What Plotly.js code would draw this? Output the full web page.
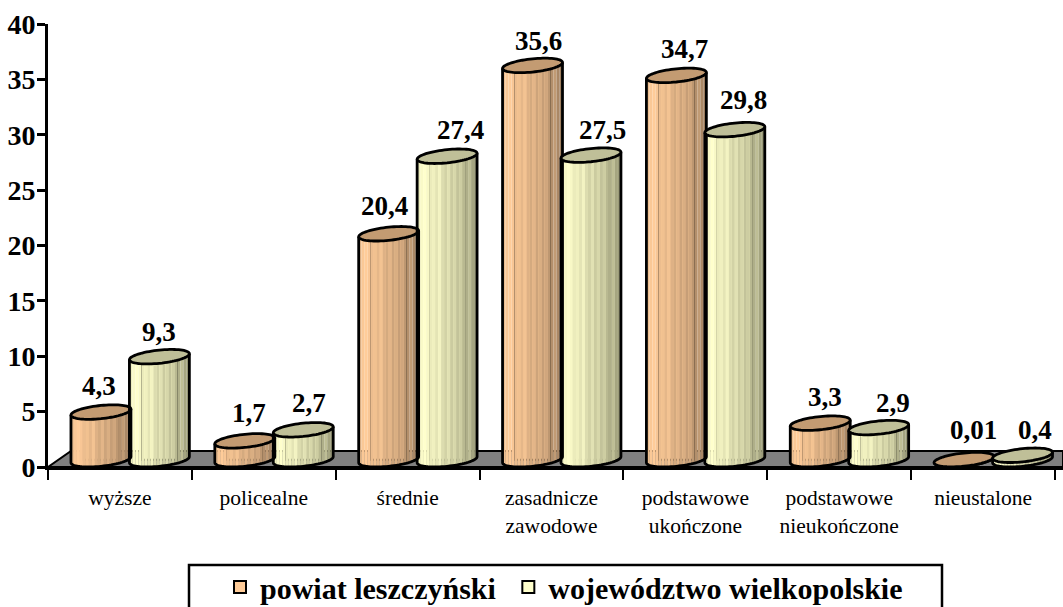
<!DOCTYPE html>
<html><head><meta charset="utf-8">
<script src="https://cdn.plot.ly/plotly-3.0.1.min.js"></script>
<style>html,body{margin:0;padding:0;background:#fff;overflow:hidden}</style>
</head><body><div id="chart" style="width:1063px;height:607px"></div>
<script>
const categories = ["wyższe","policealne","średnie","zasadnicze<br>zawodowe","podstawowe<br>ukończone","podstawowe<br>nieukończone","nieustalone"];
const powiat = [4.3,1.7,20.4,35.6,34.7,3.3,0.01];
const wojewodztwo = [9.3,2.7,27.4,27.5,29.8,2.9,0.4];
const seriesNames = ["powiat leszczyński\u00a0","województwo wielkopolskie"];
const yTicks = [0,5,10,15,20,25,30,35,40];

// label nudges (pixels, from the bar centre: right, up)
const powiatLabelDx = [-2,4,-4,6,8,5,9];
const powiatLabelUp = [26,28,28,24,26,26,30];
const wojLabelDx = [0,6,13,11,9,14,12];
const wojLabelUp = [25,27,26,25,30,25,25];

// geometry helpers: pixels per category / per y unit
const W = 1063, H = 607, L = 48, T = 24, B = 140;
const pxX = 144, pxY = (H-T-B)/40;
const lift = 7.3/pxY, a = 30, b = 6.6, s = 0.1;
const centers = [-19, 39.5];
const bodyColors = [[255,204,153],[255,255,204]];
const endColors = [[160,128,96],[155,155,120]];
const topColors = ["#C39B72","#BFBF98"];
const stripes = [.93,.98,1,.97,.92,.94,.89,.95,.86,.82,.88,.79,.84,.76,.8,.72,.68,.74,.64,.6];

const traces = [], shapes = [], annotations = [];
const sets = [powiat, wojewodztwo];
sets.forEach((vals,si)=>{
  traces.push({type:"bar",name:seriesNames[si],x:categories,y:vals,base:lift,
    width:36/pxX,offset:(centers[si]-18)/pxX,cliponaxis:false,hoverinfo:"x+y",
    marker:{color:`rgb(${bodyColors[si]})`,line:{color:"#000",width:2}}});
});
sets.forEach((vals,si)=>{
  const n = stripes.length;
  stripes.forEach((f,k)=>{
    const dx = -a + (k+.5)*2*a/n;
    const h = b*Math.sqrt(1-(dx/a)*(dx/a)) - s*dx;
    const c = bodyColors[si].map((v,i)=>Math.round(endColors[si][i]+(v-endColors[si][i])*((f-.6)/.4)));
    traces.push({type:"bar",x:categories,y:vals,base:lift-h/pxY,showlegend:false,hoverinfo:"skip",
      width:2*a/n/pxX,offset:(centers[si]+dx-a/n)/pxX,cliponaxis:false,
      marker:{color:`rgb(${c})`,line:{width:0}}});
  });
});

function pt(i,si,v,t){
  const x = i + (centers[si]+a*Math.cos(t))/pxX;
  const y = v + lift - (b*Math.sin(t) - s*a*Math.cos(t))/pxY;
  return x.toFixed(4)+","+y.toFixed(4);
}
// floor
const floorUp = 16/pxY;
shapes.push({type:"path",layer:"below",xref:"paper",yref:"y",
  path:`M0,0 L${23/(W-L)},${floorUp} L1,${floorUp} L1,0 Z`,fillcolor:"#808080",line:{color:"#000",width:2}});

categories.forEach((c,i)=>{
  sets.forEach((vals,si)=>{
    const v = vals[i];
    let body = "M"+pt(i,si,v,Math.PI);
    for(let j=0;j<=36;j++) body += " L"+pt(i,si,0,Math.PI-j*Math.PI/36);
    body += " L"+pt(i,si,v,0);
    shapes.push({type:"path",xref:"x",yref:"y",path:body,line:{color:"#000",width:2.8}});
    let el = "M"+pt(i,si,v,0);
    for(let j=1;j<72;j++) el += " L"+pt(i,si,v,j*Math.PI/36);
    el += " Z";
    shapes.push({type:"path",xref:"x",yref:"y",path:el,fillcolor:topColors[si],line:{color:"#000",width:2.8}});
    annotations.push({xref:"x",yref:"y",x:i,y:v+lift,showarrow:false,
      xshift:centers[si]+(si?wojLabelDx:powiatLabelDx)[i],
      yshift:(si?wojLabelUp:powiatLabelUp)[i],yanchor:"middle",xanchor:"center",
      text:String(v).replace(".",","),
      font:{family:"Liberation Serif",size:27,color:"#000",weight:700}});
  });
});
// legend frame (runs off the bottom of the page, as in the reference)
const pY = p => (H-B-p)/(H-T-B), pX = p => (p-L)/(W-L);
shapes.push({type:"rect",xref:"paper",yref:"paper",x0:pX(189),x1:pX(942),y0:pY(620),y1:pY(565),
  line:{color:"#000",width:2.5}});

Plotly.newPlot("chart",traces,{
  width:W,height:H,margin:{l:L,r:0,t:T,b:B,pad:0,autoexpand:false},
  paper_bgcolor:"#fff",plot_bgcolor:"rgba(0,0,0,0)",barmode:"overlay",
  font:{family:"Liberation Serif",color:"#000"},
  xaxis:{type:"category",range:[-0.5,6.5+8/144],tickson:"boundaries",ticks:"outside",ticklen:10,tickwidth:2,
    tickcolor:"#000",showline:true,linecolor:"#000",linewidth:2.5,showgrid:false,zeroline:false,tickangle:0,
    automargin:false,ticklabelstandoff:9,tickfont:{family:"Liberation Serif",size:21.5,color:"#000"}},
  yaxis:{range:[0,40],tickvals:yTicks,ticks:"outside",ticklen:8,tickwidth:2.5,tickcolor:"#000",
    showline:true,linecolor:"#000",linewidth:3,showgrid:false,zeroline:false,automargin:false,
    ticklabelstandoff:-4,tickfont:{family:"Liberation Serif",size:28,color:"#000",weight:700}},
  legend:{orientation:"h",xref:"paper",yref:"paper",x:pX(220),y:pY(561),xanchor:"left",yanchor:"top",
    borderwidth:0,bgcolor:"rgba(0,0,0,0)",itemclick:false,
    font:{family:"Liberation Serif",size:30,color:"#000",weight:700}},
  shapes,annotations,showlegend:true
},{displayModeBar:false,responsive:false});
</script></body></html>
